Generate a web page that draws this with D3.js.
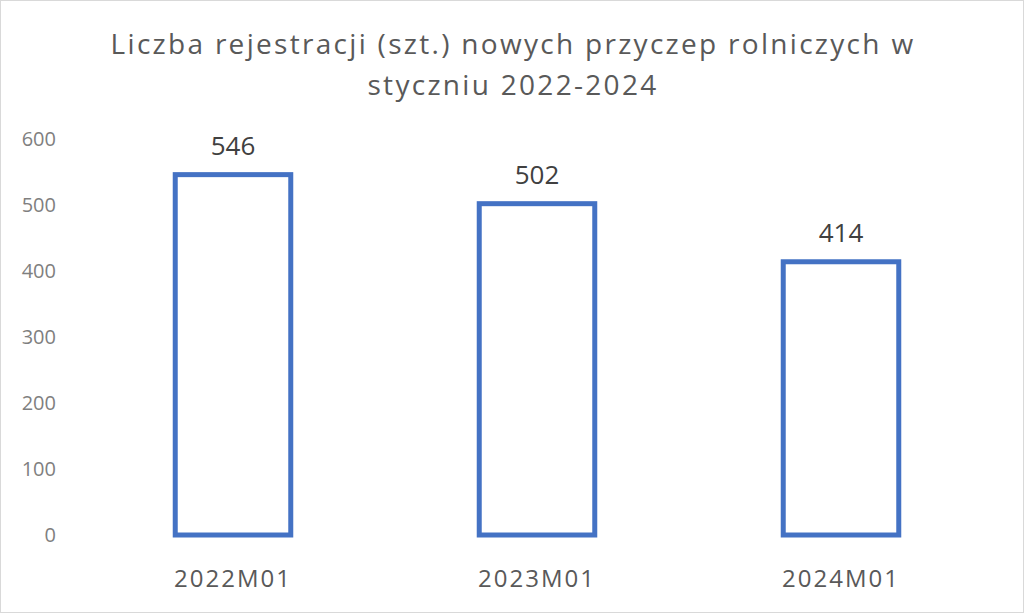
<!DOCTYPE html>
<html><head><meta charset="utf-8">
<script src="https://cdn.jsdelivr.net/npm/d3@7"></script>
<style>html,body{margin:0;padding:0;background:#fff;}svg{display:block;}</style>
</head><body>
<svg id="c" width="1024" height="615"></svg>
<script>
const categories = ["2022M01", "2023M01", "2024M01"];
const values = [546, 502, 414];
const yTicks = [0, 100, 200, 300, 400, 500, 600];
const titleLines = ["Liczba rejestracji (szt.) nowych przyczep rolniczych w", "styczniu 2022-2024"];

const svg = d3.select("#c");
const W = 1024, H = 615;
svg.append("rect").attr("x", 0.5).attr("y", 0.5).attr("width", W - 1).attr("height", H - 3)
  .attr("fill", "#fff").attr("stroke", "#d9d9d9");

const x = d3.scaleBand().domain(categories).range([81, 993]).paddingInner(0.62).paddingOuter(0.31);
const y = d3.scaleLinear().domain([0, 600]).range([535, 139]);

const font = "'Open Sans', 'Noto Sans', sans-serif";

svg.append("g").selectAll("text").data(titleLines).join("text")
  .attr("x", 513).attr("y", (d, i) => 54 + i * 41)
  .attr("text-anchor", "middle").attr("font-family", font).attr("font-size", 28)
  .attr("letter-spacing", 2.3)
  .attr("fill", "#595959").text(d => d);

const yAxis = d3.axisLeft(y).tickValues(yTicks).tickSize(0).tickPadding(0);
const gy = svg.append("g").attr("transform", "translate(56,0)").call(yAxis);
gy.select(".domain").remove();
gy.selectAll("text").attr("font-family", font).attr("font-size", 20).attr("fill", "#7f7f7f");

const xAxis = d3.axisBottom(x).tickSize(0).tickPadding(0);
const gx = svg.append("g").attr("transform", "translate(0,587)").call(xAxis);
gx.select(".domain").remove();
gx.selectAll("text").attr("font-family", font).attr("font-size", 24).attr("fill", "#595959")
  .attr("letter-spacing", 2).attr("dy", "0");

svg.append("g").selectAll("rect").data(values).join("rect")
  .attr("x", (d, i) => x(categories[i]))
  .attr("y", d => y(d))
  .attr("width", x.bandwidth())
  .attr("height", d => y(0) - y(d))
  .attr("fill", "none").attr("stroke", "#4472c4").attr("stroke-width", 5);

svg.append("g").selectAll("text").data(values).join("text")
  .attr("x", (d, i) => x(categories[i]) + x.bandwidth() / 2)
  .attr("y", d => y(d) - 20)
  .attr("text-anchor", "middle").attr("font-family", font).attr("font-size", 26)
  .attr("fill", "#404040").text(d => d);
</script>
</body></html>
